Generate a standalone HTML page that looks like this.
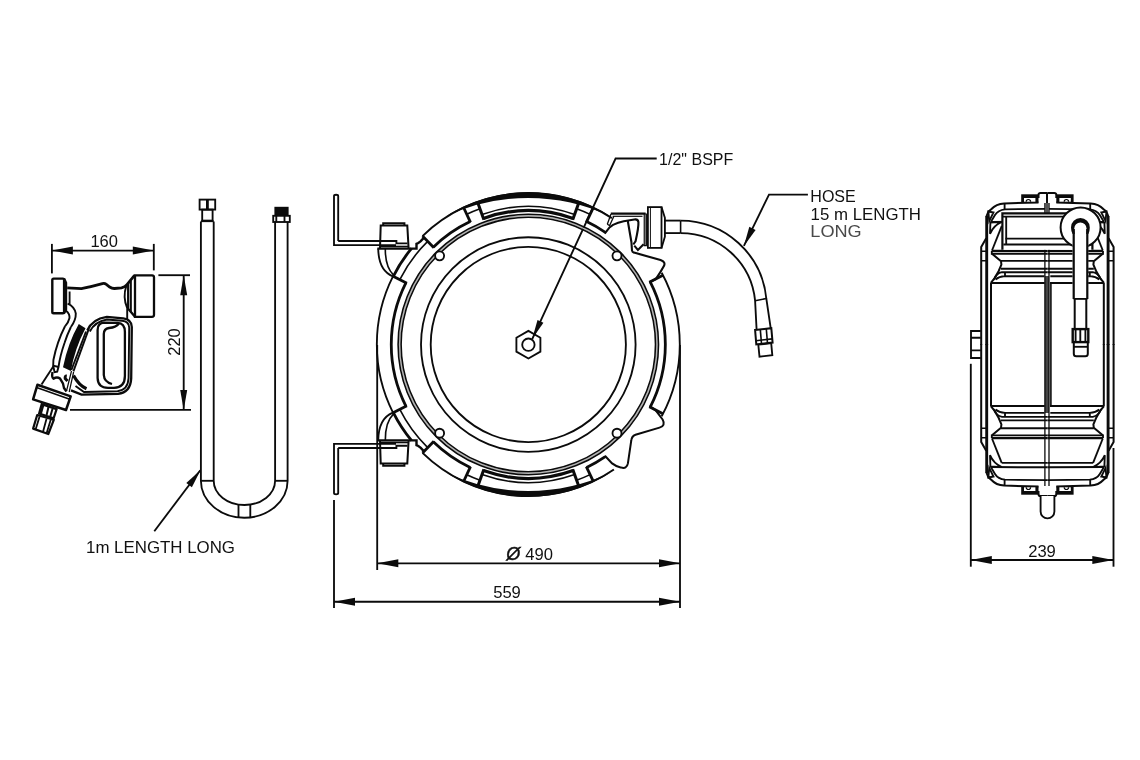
<!DOCTYPE html>
<html><head><meta charset="utf-8"><title>Hose reel dimensions</title>
<style>
html,body{margin:0;padding:0;background:#fff;}
body{width:1140px;height:760px;overflow:hidden;}
svg{display:block;}
svg text{font-family:"Liberation Sans",sans-serif;fill:#111;}
.l{fill:none;stroke:#0b0b0b;stroke-width:1.85;stroke-linecap:butt;stroke-linejoin:miter;}
.t{fill:none;stroke:#0b0b0b;stroke-width:1.6;}
.k{fill:none;stroke:#0b0b0b;stroke-width:2.8;}
.w{fill:#fff;stroke:#0b0b0b;stroke-width:1.85;}
.f{fill:#0b0b0b;stroke:none;}
</style></head><body>
<svg width="1140" height="760" viewBox="0 0 1140 760">
<rect x="0" y="0" width="1140" height="760" fill="#fff"/>
<g id="dims">
<path class="l" d="M51.9 243.9 L51.9 273.4"/>
<path class="l" d="M153.8 243.9 L153.8 270.4"/>
<path class="l" d="M51.9 250.6 L153.8 250.6"/>
<path class="f" d="M51.9 250.6 L72.9 246.6 L72.9 254.6 Z"/>
<path class="f" d="M153.8 250.6 L132.8 254.6 L132.8 246.6 Z"/>
<path class="l" d="M158.4 275.2 L190.0 275.2"/>
<path class="l" d="M70.0 409.9 L191.0 409.9"/>
<path class="l" d="M183.7 275.2 L183.7 409.9"/>
<path class="f" d="M183.7 275.2 L187.2 295.2 L180.2 295.2 Z"/>
<path class="f" d="M183.7 409.9 L180.2 389.9 L187.2 389.9 Z"/>
<path class="l" d="M154.3 531.2 L200.3 470.3"/>
<path class="f" d="M200.6 470.0 L191.9 487.3 L186.3 483.0 Z"/>
<path class="l" d="M377.2 345.0 L377.2 570.0"/>
<path class="l" d="M680.0 345.0 L680.0 608.0"/>
<path class="l" d="M377.3 563.3 L680.0 563.3"/>
<path class="f" d="M377.3 563.3 L398.3 559.3 L398.3 567.3 Z"/>
<path class="f" d="M680.0 563.3 L659.0 567.3 L659.0 559.3 Z"/>
<path class="l" d="M334.0 500.0 L334.0 608.0"/>
<path class="l" d="M334.0 601.7 L680.0 601.7"/>
<path class="f" d="M334.0 601.7 L355.0 597.7 L355.0 605.7 Z"/>
<path class="f" d="M680.0 601.7 L659.0 605.7 L659.0 597.7 Z"/>
<path class="l" d="M970.8 363.8 L970.8 566.7"/>
<path class="l" d="M1113.5 448.0 L1113.5 566.7"/>
<path class="l" d="M970.8 560.0 L1113.3 560.0"/>
<path class="f" d="M970.8 560.0 L991.8 556.0 L991.8 564.0 Z"/>
<path class="f" d="M1113.3 560.0 L1092.3 564.0 L1092.3 556.0 Z"/>
<path class="l" d="M656.7 158.5 L615.6 158.5 L532.2 339.1"/>
<path class="f" d="M532.2 339.1 L537.5 320.1 L543.4 322.8 Z"/>
<path class="l" d="M807.9 194.6 L769.0 194.6 L743.9 245.9"/>
<path class="f" d="M743.9 245.9 L749.3 226.8 L755.6 229.9 Z"/>
</g>
<g id="uhose">
<rect class="l" x="199.6" y="199.6" width="15.6" height="10.0"/>
<path class="k" d="M207.4 199.6 L207.4 209.6"/>
<rect class="l" x="202.2" y="209.6" width="10.4" height="11.0"/>
<path class="l" d="M200.9 221.5 L200.9 480.8 A43.3 36.9 0 0 0 244.2 517.7 A43.3 36.9 0 0 0 287.6 480.8 L287.6 222"/>
<path class="l" d="M213.7 221.5 L213.7 480.8 A30.7 24.2 0 0 0 244.4 505 A30.7 24.2 0 0 0 275.1 480.8 L275.1 222"/>
<path class="l" d="M200.9 221.2 L213.7 221.2"/>
<path class="l" d="M200.9 480.8 L213.7 480.8"/>
<path class="l" d="M275.1 480.8 L287.6 480.8"/>
<path class="l" d="M238.5 505.0 L238.5 517.6"/>
<path class="l" d="M250.3 505.0 L250.3 517.6"/>
<rect class="f" x="274.4" y="206.8" width="14.2" height="9.2"/>
<rect class="l" x="273.2" y="215.8" width="16.6" height="6.2"/>
<path class="l" d="M284.5 215.8 L284.5 222.0"/>
<path class="l" d="M276.3 215.8 L276.3 222.0"/>
</g>
<g id="reel">
<circle class="l" cx="528.3" cy="344.5" r="97.6"/>
<circle class="l" cx="528.3" cy="344.5" r="107.3"/>
<circle class="t" style="stroke:#b5b5b5;stroke-width:1.6" cx="528.3" cy="344.5" r="128.7"/>
<circle class="t" cx="528.3" cy="344.5" r="127.2"/>
<circle class="t" cx="528.3" cy="344.5" r="130.2"/>
<path class="k" d="M406.0 406.3 A137.0 137.0 0 0 1 406.0 282.7"/>
<path class="k" d="M650.2 281.9 A137.0 137.0 0 0 1 650.2 407.1"/>
<path class="l" style="stroke-width:2" d="M422.5 236.1 A151.5 151.5 0 0 1 611.9 218.2"/>
<path class="l" d="M393.1 412.8 A151.5 151.5 0 0 1 393.1 276.2"/>
<path class="k" d="M411.6 440.7 A151.3 151.3 0 0 1 393.3 412.7"/>
<path class="k" d="M393.3 276.3 A151.3 151.3 0 0 1 411.6 248.3"/>
<path class="l" style="stroke-width:2" d="M613.9 469.5 A151.5 151.5 0 0 1 422.5 452.9"/>
<path class="l" d="M661.7 272.7 A151.5 151.5 0 0 1 661.7 416.3"/>
<path class="k" d="M406.9 283.2 L393.1 276.2"/>
<path class="t" d="M399.8 279.6 A144.0 144.0 0 0 1 427.7 241.4"/>
<path class="k" d="M433.9 247.7 L422.5 236.1"/>
<path class="k" d="M433.3 247.2 A136.0 136.0 0 0 1 470.2 221.5"/>
<path class="k" d="M470.5 222.3 L463.6 207.5"/>
<path class="t" d="M466.8 214.3 A144.0 144.0 0 0 1 480.0 208.8"/>
<path class="k" style="stroke-width:3" d="M483.9 219.7 L477.8 202.7"/>
<path class="k" style="stroke-width:3" d="M572.7 219.7 L578.8 202.7"/>
<path class="t" d="M482.0 214.5 A138.0 138.0 0 0 1 574.6 214.5"/>
<path class="k" style="stroke-width:3.2" d="M483.4 218.4 A133.9 133.9 0 0 1 573.2 218.4"/>
<path class="t" d="M576.6 208.8 A144.0 144.0 0 0 1 590.1 214.4"/>
<path class="k" d="M586.3 222.4 L593.3 207.6"/>
<path class="k" d="M586.6 221.6 A136.0 136.0 0 0 1 605.3 232.4"/>
<path class="k" d="M649.3 282.3 L663.0 275.2"/>
<path class="f" d="M446.3 216.2 A152.3 152.3 0 0 1 610.3 216.2 A193.5 193.5 0 0 0 446.3 216.2 Z"/>
<path class="k" d="M406.9 405.8 L393.1 412.8"/>
<path class="t" d="M399.8 409.4 A144.0 144.0 0 0 0 427.7 447.6"/>
<path class="k" d="M433.9 441.3 L422.5 452.9"/>
<path class="k" d="M433.3 441.8 A136.0 136.0 0 0 0 470.2 467.5"/>
<path class="k" d="M470.5 466.7 L463.6 481.5"/>
<path class="t" d="M466.8 474.7 A144.0 144.0 0 0 0 480.0 480.2"/>
<path class="k" style="stroke-width:3" d="M483.9 469.3 L477.8 486.3"/>
<path class="k" style="stroke-width:3" d="M572.7 469.3 L578.8 486.3"/>
<path class="t" d="M482.0 474.5 A138.0 138.0 0 0 0 574.6 474.5"/>
<path class="k" style="stroke-width:3.2" d="M483.4 470.6 A133.9 133.9 0 0 0 573.2 470.6"/>
<path class="t" d="M576.6 480.2 A144.0 144.0 0 0 0 590.1 474.6"/>
<path class="k" d="M586.3 466.6 L593.3 481.4"/>
<path class="k" d="M586.6 467.4 A136.0 136.0 0 0 0 605.3 456.6"/>
<path class="k" d="M649.3 406.7 L663.0 413.8"/>
<path class="f" d="M446.3 472.8 A152.3 152.3 0 0 0 610.3 472.8 A193.5 193.5 0 0 1 446.3 472.8 Z"/>
<circle class="w" cx="617.0" cy="433.2" r="4.5"/>
<circle class="w" cx="439.6" cy="433.2" r="4.5"/>
<circle class="w" cx="617.0" cy="255.8" r="4.5"/>
<circle class="w" cx="439.6" cy="255.8" r="4.5"/>
<path class="l" d="M528.4 330.9 L540.4 337.8 L540.4 351.6 L528.4 358.5 L516.4 351.6 L516.4 337.8 Z"/>
<circle class="l" cx="528.4" cy="344.7" r="6.2"/>
<path class="l" d="M338.2 241 L338.2 196 Q338.2 194.7 336.1 194.7 Q334 194.7 334 196 L334 245.1 L396 245.1"/>
<path class="l" d="M338.2 241 L396.4 241 L396.4 243.3 L407.5 243.3"/>
<path class="k" style="stroke-width:2" d="M380 248.4 L380.7 225.6 L407.3 225.6 L408.6 248.4"/>
<path class="k" style="stroke-width:2" d="M383.2 225.6 L383.2 223.3 L404.4 223.3 L404.4 225.6"/>
<path class="t" d="M380.5 246.5 L408.0 246.5"/>
<path class="k" style="stroke-width:2.4" d="M377.4 248.6 L416.5 248.6 L416.5 243.8 L418.3 243 L420.5 241.4 L424.3 237.4"/>
<path class="l" d="M378.2 248.6 Q378.6 270.5 392.8 276.3"/>
<path class="t" d="M385.3 248.6 Q385.2 267 393.4 274.8"/>
<g transform="translate(0 689) scale(1 -1)"><path class="l" d="M338.2 241 L338.2 196 Q338.2 194.7 336.1 194.7 Q334 194.7 334 196 L334 245.1 L396 245.1"/>
<path class="l" d="M338.2 241 L396.4 241 L396.4 243.3 L407.5 243.3"/>
<path class="k" style="stroke-width:2" d="M380 248.4 L380.7 225.6 L407.3 225.6 L408.6 248.4"/>
<path class="k" style="stroke-width:2" d="M383.2 225.6 L383.2 223.3 L404.4 223.3 L404.4 225.6"/>
<path class="t" d="M380.5 246.5 L408.0 246.5"/>
<path class="k" style="stroke-width:2.4" d="M377.4 248.6 L416.5 248.6 L416.5 243.8 L418.3 243 L420.5 241.4 L424.3 237.4"/>
<path class="l" d="M378.2 248.6 Q378.6 270.5 392.8 276.3"/>
<path class="t" d="M385.3 248.6 Q385.2 267 393.4 274.8"/></g>
<path class="k" style="stroke-width:2" d="M604.9 455.8 L612.1 463.4 Q616.0 466.5 620.7 467.4 Q626.8 469.5 627.9 463.4 L631.2 441.0 Q631.6 436.2 635.5 434.8 L659.5 427.6 Q666.0 425.5 662.6 419.5 L655.5 410.1 L649.6 406.2"/>
</g>
<g id="hose">
<path class="k" style="stroke-width:2.2" d="M610.8 213.7 L645.6 213.7"/>
<path class="t" style="stroke-width:1.2" d="M612.6 216.3 L642.5 216.3"/>
<path class="t" style="fill:#888;stroke-width:1.1" d="M644.2 214 L644.2 245.6 L646.4 245.6 L646.4 214 Z"/>
<path class="t" style="stroke-width:1.3" d="M611 214 L607.3 224.2 M613.8 216.6 L609.6 225.6 L607.3 224.2"/>
<path class="k" style="stroke-width:2.1" d="M604.7 233.7 L609.5 227.4 L613 224.9 Q618 222.6 623.7 221.3 L634.3 219.5 Q637.9 219 638.4 222 Q638.8 227 635.5 241.4 L633.3 244.5"/>
<path class="k" style="stroke-width:2.1" d="M627.8 221 L631.4 242 L632 250.5 Q632.2 252.2 634 252.6 L660.5 260 Q666 262 663.9 266 Q661 271.5 655.6 279.3 L649.3 282.4"/>
<path class="k" style="stroke-width:2" d="M634.3 245.6 L637.9 249.9 L643.6 244.2"/>
<path class="l" d="M661.5 207.1 L664.9 217.8 L664.9 236.7 L661.5 247.9"/>
<rect class="k" style="stroke-width:1.8" x="647.9" y="207.1" width="13.6" height="40.8"/>
<path class="t" style="stroke-width:1" d="M650.4 207.1 L650.4 247.9"/>
<path class="l" d="M664.9 220.6 L680.6 220.6"/>
<path class="l" d="M664.9 233.1 L680.6 233.1"/>
<path class="t" d="M680.6 220.6 L680.6 233.1"/>
<path class="l" d="M680.6 220.6 A86.2 86.2 0 0 1 766.3 298.5 L770.8 328.9"/>
<path class="l" d="M680.6 233.1 A74.8 74.8 0 0 1 755.1 300.7 L756.6 329.8"/>
<path class="t" d="M755.1 300.7 L766.3 298.5"/>
<path class="k" style="stroke-width:2" d="M755.1 330.0 L771.3 328.2 L772.6 342.6 L756.3 344.4 Z"/>
<path class="t" d="M760.3 329.6 L761.5 343.8"/>
<path class="t" d="M766.3 329.0 L767.5 343.2"/>
<path class="t" d="M756.0 340.7 L772.3 338.9"/>
<path class="l" d="M758.3 344.6 L771.2 343.2 L772.3 355.2 L759.5 356.7 Z"/>
</g>
<g id="gun">
<rect class="k" style="stroke-width:2.4" x="52.3" y="278.6" width="11.8" height="34.6" rx="1.3"/>
<path class="k" style="stroke-width:1.6;fill:#0b0b0b" d="M64.4 278.4 L66.4 282.6 L66.4 309.6 L64.4 313.4 Z"/>
<path class="l" d="M69.6 291.5 L69.6 304"/>
<path class="k" style="stroke-width:2.8" d="M67.2 287.8 L81.3 288.7 Q92 286.5 102.4 283.6 Q104.5 283 106 284.2 L109.7 287 Q112 288.6 114.5 288.5 L121.5 287.8 Q125 287 127 284.5 L134.5 275.4"/>
<path class="k" style="stroke-width:2.3" d="M135 275.3 L152 275.3 Q154 275.3 154 277.3 L154 314.8 Q154 316.8 152 316.8 L135 316.8 Z"/>
<path class="k" style="stroke-width:2.3" d="M135 316.8 L128.2 308.8 L128.2 283"/>
<path class="l" style="stroke-width:1.9" d="M130.9 280.5 L130.9 311.8"/>
<path class="l" style="stroke-width:1.9" d="M126.3 286 Q122.5 297 127.2 308.2 L127.2 319"/>
<path class="l" style="stroke-width:1.9" d="M67.6 303.6 Q74.5 306.5 75.8 313.5 Q76 320 70.9 327"/>
<path class="l" style="stroke-width:1.9" d="M65.8 310.4 Q69.8 313.5 69.5 318 Q68.5 322.5 65 326.3"/>
<path class="l" style="stroke-width:1.9" d="M65 326.3 Q57 342 53.4 360 L53.2 365.8 L54.6 372.2 L57.2 371.6 L58.5 367 Q60 356 64.5 343 Q67 335 70.9 327"/>
<path class="l" style="stroke-width:1.9" d="M53.2 365.6 L58.5 367"/>
<path class="f" d="M78.8 324.1 L85.5 328.2 Q74.5 349 70.9 371 L63 367.2 Q68 343 78.8 324.1 Z"/>
<path class="l" style="stroke-width:1.9" d="M88.8 328.9 L73.4 371.4"/>
<path class="l" style="stroke-width:1.9" d="M86 331.5 L71.4 370"/>
<path class="k" style="stroke-width:2.3" d="M87.3 330.5 Q92 319 106.9 316.8 L123.2 318.3 Q131.8 319.5 131.8 327 L131.2 378.4 Q130.5 392.5 118 393.8 L81.5 394.6 L71 390.4"/>
<path class="l" style="stroke-width:1.9" d="M89.8 331.5 Q94.5 321.8 106.9 319.5 L122 320.8 Q129 321.5 129.2 327.5 L128.6 378 Q128 390 117.5 391.2 L84 392 L75.5 386"/>
<path class="k" style="stroke-width:2.3" d="M104 322.7 Q97.6 323.2 97.6 330 L97.6 378 Q98 387.8 108 387.8 L114 387.8 Q124.9 387.5 124.9 376 L124.9 332 Q124.9 323 117.5 322.8 Z"/>
<path class="k" style="stroke-width:2.3" d="M118.9 323.4 Q116.5 327.5 109 328 Q103.8 328.8 103.8 334 L103.8 375 Q104.2 382 112 384"/>
<path class="k" style="stroke-width:3.2" d="M73.5 375.5 Q79 385.5 86.5 388.8"/>
<path class="l" style="stroke-width:1.9" d="M53.6 366 L41.5 384.5"/>
<path class="k" style="stroke-width:2.4" d="M52.5 372 Q51.5 377.5 53.5 378.6 Q57 376.5 60 378.5 Q63.5 383 64 388 L66.5 391.5"/>
<path class="k" style="stroke-width:3" d="M66.8 376 Q64.8 375.8 65.2 378.5 L67.5 381"/>
<path class="t" style="stroke-width:1.2" d="M71.5 371 L66.5 391 M73.6 372 L69.2 392"/>
<path class="k" style="stroke-width:2.5;fill:#fff;stroke-linejoin:round" d="M37.4 384.8 L70.7 396.4 L66.0 410.0 L33.1 399.4 Z"/>
<path class="t" d="M36.6 387.6 L69.8 399.2"/>
<path class="k" style="stroke-width:2.2;fill:#fff" d="M41.7 404.1 L56.6 409.2 L53.6 418.4 L39.1 413.5 Z"/>
<path class="k" style="stroke-width:2" d="M48.5 407 L46.6 415 M52.6 408.5 L50.3 416.5"/>
<path class="k" style="stroke-width:3" d="M43 404.6 L40.4 413.6"/>
<path class="k" style="stroke-width:2.2;fill:#fff;stroke-linejoin:round" d="M37.2 415.0 L53.8 419.8 L48.3 434.0 L33.1 428.6 Z"/>
<path class="l" style="stroke-width:1.8" d="M39.6 416.5 L35.6 429.6 M46.6 418.4 L42.9 432.2 M50.8 419.6 L46.6 433.2"/>
</g>
<g id="side">
<path class="k" style="stroke-width:2" d="M981.2 345 L981.2 247 L986.2 238.2"/>
<path class="k" style="stroke-width:2.9" d="M986.7 345 L986.7 216"/>
<path class="t" d="M981 251.3 L986.6 251.3 M981.5 260.8 L986.6 260.8"/>
<path class="k" style="stroke-width:2" d="M1038.5 202.4 L1004.2 203.4 Q996 204 991.5 209 L988.4 211.7 L986.4 216.6"/>
<path class="l" d="M988.4 211.5 L993.5 212.5 L989.2 221.1 Z"/>
<path class="l" d="M1047.4 208.9 L1005 209.3 Q998 210 995 215 L990.8 221.9"/>
<path class="l" d="M1004.6 203.4 L1004.6 209.3"/>
<path class="l" d="M990.4 222.7 L1001.8 221.9 Q993.5 225.5 990 233.8 Z"/>
<path class="k" style="stroke-width:2" d="M991 221.9 L1047.4 221.7"/>
<path class="l" d="M1001.7 226.2 L1047.4 226.2"/>
<path class="l" d="M1001.7 226.2 L992 250.5"/>
<rect class="f" x="1021.2" y="194.3" width="17.3" height="8.4"/>
<rect x="1024" y="198" width="11.4" height="3.7" fill="#fff"/>
<path class="t" style="stroke-width:1.2" d="M1026.2 201.7 A2.2 2.2 0 0 1 1030.6 201.7"/>
<path class="k" style="stroke-width:2" d="M1038.5 198 L1038.5 194.6 Q1038.6 193 1040.5 193 L1047.4 193"/>
<path class="k" style="stroke-width:2.2" d="M991.8 250.9 L1047.4 250.9"/>
<path class="l" d="M991.8 250.9 L991.8 253.7 L1047.4 253.7"/>
<path class="k" style="stroke-width:2" d="M992 253.7 L1001 261.2 L1001.4 264.7 L998.7 271 L994.7 278.1 L990.8 282.9"/>
<path class="l" d="M1001 260.8 L1047.4 260.8"/>
<path class="l" d="M1001 268.7 L1047.4 268.7"/>
<path class="l" d="M993.5 280 Q996.5 273 1002 272.2 L1047.4 272.2"/>
<path class="l" d="M995.5 279.5 Q999 276.5 1005 276.2 L1044.5 276.2 M1005 272.4 L1005 276.2"/>
<path class="k" style="stroke-width:2" d="M990.8 282.9 L1044.8 282.9"/>
<path class="k" style="stroke-width:2" d="M991 282.9 L991 345"/>
<g transform="translate(2094.8 0) scale(-1 1)"><path class="k" style="stroke-width:2" d="M981.2 345 L981.2 247 L986.2 238.2"/>
<path class="k" style="stroke-width:2.9" d="M986.7 345 L986.7 216"/>
<path class="t" d="M981 251.3 L986.6 251.3 M981.5 260.8 L986.6 260.8"/>
<path class="k" style="stroke-width:2" d="M1038.5 202.4 L1004.2 203.4 Q996 204 991.5 209 L988.4 211.7 L986.4 216.6"/>
<path class="l" d="M988.4 211.5 L993.5 212.5 L989.2 221.1 Z"/>
<path class="l" d="M1047.4 208.9 L1005 209.3 Q998 210 995 215 L990.8 221.9"/>
<path class="l" d="M1004.6 203.4 L1004.6 209.3"/>
<path class="l" d="M990.4 222.7 L1001.8 221.9 Q993.5 225.5 990 233.8 Z"/>
<path class="k" style="stroke-width:2" d="M991 221.9 L1047.4 221.7"/>
<path class="l" d="M1001.7 226.2 L1047.4 226.2"/>
<path class="l" d="M1001.7 226.2 L992 250.5"/>
<rect class="f" x="1021.2" y="194.3" width="17.3" height="8.4"/>
<rect x="1024" y="198" width="11.4" height="3.7" fill="#fff"/>
<path class="t" style="stroke-width:1.2" d="M1026.2 201.7 A2.2 2.2 0 0 1 1030.6 201.7"/>
<path class="k" style="stroke-width:2" d="M1038.5 198 L1038.5 194.6 Q1038.6 193 1040.5 193 L1047.4 193"/>
<path class="k" style="stroke-width:2.2" d="M991.8 250.9 L1047.4 250.9"/>
<path class="l" d="M991.8 250.9 L991.8 253.7 L1047.4 253.7"/>
<path class="k" style="stroke-width:2" d="M992 253.7 L1001 261.2 L1001.4 264.7 L998.7 271 L994.7 278.1 L990.8 282.9"/>
<path class="l" d="M1001 260.8 L1047.4 260.8"/>
<path class="l" d="M1001 268.7 L1047.4 268.7"/>
<path class="l" d="M993.5 280 Q996.5 273 1002 272.2 L1047.4 272.2"/>
<path class="l" d="M995.5 279.5 Q999 276.5 1005 276.2 L1044.5 276.2 M1005 272.4 L1005 276.2"/>
<path class="k" style="stroke-width:2" d="M990.8 282.9 L1044.8 282.9"/>
<path class="k" style="stroke-width:2" d="M991 282.9 L991 345"/></g>
<g transform="translate(0 689.0) scale(1 -1)"><path class="k" style="stroke-width:2" d="M981.2 345 L981.2 247 L986.2 238.2"/>
<path class="k" style="stroke-width:2.9" d="M986.7 345 L986.7 216"/>
<path class="t" d="M981 251.3 L986.6 251.3 M981.5 260.8 L986.6 260.8"/>
<path class="k" style="stroke-width:2" d="M1038.5 202.4 L1004.2 203.4 Q996 204 991.5 209 L988.4 211.7 L986.4 216.6"/>
<path class="l" d="M988.4 211.5 L993.5 212.5 L989.2 221.1 Z"/>
<path class="l" d="M1047.4 208.9 L1005 209.3 Q998 210 995 215 L990.8 221.9"/>
<path class="l" d="M1004.6 203.4 L1004.6 209.3"/>
<path class="l" d="M990.4 222.7 L1001.8 221.9 Q993.5 225.5 990 233.8 Z"/>
<path class="k" style="stroke-width:2" d="M991 221.9 L1047.4 221.7"/>
<path class="l" d="M1001.7 226.2 L1047.4 226.2"/>
<path class="l" d="M1001.7 226.2 L992 250.5"/>
<rect class="f" x="1021.2" y="194.3" width="17.3" height="8.4"/>
<rect x="1024" y="198" width="11.4" height="3.7" fill="#fff"/>
<path class="t" style="stroke-width:1.2" d="M1026.2 201.7 A2.2 2.2 0 0 1 1030.6 201.7"/>
<path class="k" style="stroke-width:2" d="M1038.5 198 L1038.5 194.6 Q1038.6 193 1040.5 193 L1047.4 193"/>
<path class="k" style="stroke-width:2.2" d="M991.8 250.9 L1047.4 250.9"/>
<path class="l" d="M991.8 250.9 L991.8 253.7 L1047.4 253.7"/>
<path class="k" style="stroke-width:2" d="M992 253.7 L1001 261.2 L1001.4 264.7 L998.7 271 L994.7 278.1 L990.8 282.9"/>
<path class="l" d="M1001 260.8 L1047.4 260.8"/>
<path class="l" d="M1001 268.7 L1047.4 268.7"/>
<path class="l" d="M993.5 280 Q996.5 273 1002 272.2 L1047.4 272.2"/>
<path class="l" d="M995.5 279.5 Q999 276.5 1005 276.2 L1044.5 276.2 M1005 272.4 L1005 276.2"/>
<path class="k" style="stroke-width:2" d="M990.8 282.9 L1044.8 282.9"/>
<path class="k" style="stroke-width:2" d="M991 282.9 L991 345"/></g>
<g transform="translate(2094.8 689.0) scale(-1 -1)"><path class="k" style="stroke-width:2" d="M981.2 345 L981.2 247 L986.2 238.2"/>
<path class="k" style="stroke-width:2.9" d="M986.7 345 L986.7 216"/>
<path class="t" d="M981 251.3 L986.6 251.3 M981.5 260.8 L986.6 260.8"/>
<path class="k" style="stroke-width:2" d="M1038.5 202.4 L1004.2 203.4 Q996 204 991.5 209 L988.4 211.7 L986.4 216.6"/>
<path class="l" d="M988.4 211.5 L993.5 212.5 L989.2 221.1 Z"/>
<path class="l" d="M1047.4 208.9 L1005 209.3 Q998 210 995 215 L990.8 221.9"/>
<path class="l" d="M1004.6 203.4 L1004.6 209.3"/>
<path class="l" d="M990.4 222.7 L1001.8 221.9 Q993.5 225.5 990 233.8 Z"/>
<path class="k" style="stroke-width:2" d="M991 221.9 L1047.4 221.7"/>
<path class="l" d="M1001.7 226.2 L1047.4 226.2"/>
<path class="l" d="M1001.7 226.2 L992 250.5"/>
<rect class="f" x="1021.2" y="194.3" width="17.3" height="8.4"/>
<rect x="1024" y="198" width="11.4" height="3.7" fill="#fff"/>
<path class="t" style="stroke-width:1.2" d="M1026.2 201.7 A2.2 2.2 0 0 1 1030.6 201.7"/>
<path class="k" style="stroke-width:2" d="M1038.5 198 L1038.5 194.6 Q1038.6 193 1040.5 193 L1047.4 193"/>
<path class="k" style="stroke-width:2.2" d="M991.8 250.9 L1047.4 250.9"/>
<path class="l" d="M991.8 250.9 L991.8 253.7 L1047.4 253.7"/>
<path class="k" style="stroke-width:2" d="M992 253.7 L1001 261.2 L1001.4 264.7 L998.7 271 L994.7 278.1 L990.8 282.9"/>
<path class="l" d="M1001 260.8 L1047.4 260.8"/>
<path class="l" d="M1001 268.7 L1047.4 268.7"/>
<path class="l" d="M993.5 280 Q996.5 273 1002 272.2 L1047.4 272.2"/>
<path class="l" d="M995.5 279.5 Q999 276.5 1005 276.2 L1044.5 276.2 M1005 272.4 L1005 276.2"/>
<path class="k" style="stroke-width:2" d="M990.8 282.9 L1044.8 282.9"/>
<path class="k" style="stroke-width:2" d="M991 282.9 L991 345"/></g>
<rect x="1044.9" y="276" width="4.1" height="137" fill="#444"/>
<path class="t" style="stroke-width:1.3" d="M1044.9 203 L1044.9 486 M1049 203 L1049 486"/>
<path class="k" style="stroke-width:2" d="M1047 193 L1047 203"/>
<rect x="1044.9" y="203" width="4.1" height="10.3" fill="#555"/>
<path class="t" d="M1050.9 282.9 L1050.9 406.1"/>
<rect x="1002.4" y="213.3" width="90" height="36.5" fill="#fff"/>
<path class="k" style="stroke-width:2.2" d="M1002.4 249.8 L1002.4 213.3 L1092.4 213.3 L1092.4 249.8"/>
<path class="l" d="M1006.2 244.5 L1006.2 216.6 M1002.6 216.6 L1092 216.6"/>
<path class="l" d="M1005.4 238.6 L1092 238.6 M1003.4 244.5 L1092 244.5"/>
<path class="l" d="M980.8 331 L971 331 L971 358 L980.8 358 M971 337.7 L980.8 337.7 M971 350.4 L980.8 350.4"/>
<path class="w" d="M1040.6 496 L1040.6 511.5 A6.9 6.9 0 0 0 1054.4 511.5 L1054.4 496"/>
<circle class="w" style="stroke-width:2" cx="1080.6" cy="227.4" r="20.0"/>
<path d="M1072.6 228 A7.8 7.8 0 0 1 1088.2 228 L1088.2 356 L1072.6 356 Z" fill="#fff"/>
<path class="f" d="M1072.6 234 Q1071 231 1071 227.4 A9.4 9.4 0 0 1 1089.8 227.4 Q1089.8 231 1088.4 234 L1086.2 234 L1086.6 228.7 A6.2 6.2 0 0 0 1074.2 228.7 L1074.8 234 Z"/>
<path class="k" style="stroke-width:2.2" d="M1073.7 229 L1073.7 298.9 M1087.3 229 L1087.3 298.9"/>
<path class="l" d="M1073.7 298.9 L1087.3 298.9"/>
<path class="k" style="stroke-width:2" d="M1074.7 298.9 L1074.7 329.1 M1086.3 298.9 L1086.3 329.1"/>
<rect class="k" style="stroke-width:2.4" x="1072.7" y="329.1" width="15.6" height="13.0"/>
<path class="l" d="M1075.6 329.1 L1075.6 342 M1080.3 329.1 L1080.3 342 M1085.4 329.1 L1085.4 342"/>
<path class="k" style="stroke-width:2" d="M1073.8 342.1 L1073.8 353.8 Q1073.8 356.3 1076.3 356.3 L1085.3 356.3 Q1087.8 356.3 1087.8 353.8 L1087.8 342.1"/>
<path class="l" d="M1073.8 346.8 L1087.8 346.8"/>
</g>
<g id="texts" style="opacity:0.999">
<text x="104.2" y="246.8" font-size="16.5" text-anchor="middle">160</text>
<text transform="translate(180.1 342) rotate(-90)" font-size="16.5" text-anchor="middle">220</text>
<text x="86.0" y="552.8" font-size="17.0" text-anchor="start" textLength="149" lengthAdjust="spacingAndGlyphs">1m LENGTH LONG</text>
<text x="659.1" y="165.3" font-size="17.0" text-anchor="start" textLength="74.2" lengthAdjust="spacingAndGlyphs">1/2" BSPF</text>
<text x="810.3" y="201.7" font-size="17.0" text-anchor="start" textLength="45.5" lengthAdjust="spacingAndGlyphs">HOSE</text>
<text x="810.6" y="219.6" font-size="17.0" text-anchor="start" textLength="110.3" lengthAdjust="spacingAndGlyphs">15 m LENGTH</text>
<text x="810.3" y="236.9" font-size="17.0" text-anchor="start" textLength="51.4" lengthAdjust="spacingAndGlyphs" style="fill:#4a4a4a">LONG</text>
<text x="506.3" y="559.5" font-size="18.0" text-anchor="start" font-style="italic" stroke="#111" stroke-width="0.45">Ø</text>
<text x="525.2" y="559.7" font-size="16.6" text-anchor="start">490</text>
<text x="507.0" y="598.0" font-size="16.6" text-anchor="middle">559</text>
<text x="1042.0" y="556.6" font-size="16.6" text-anchor="middle">239</text>
</g>
</svg>
</body></html>
